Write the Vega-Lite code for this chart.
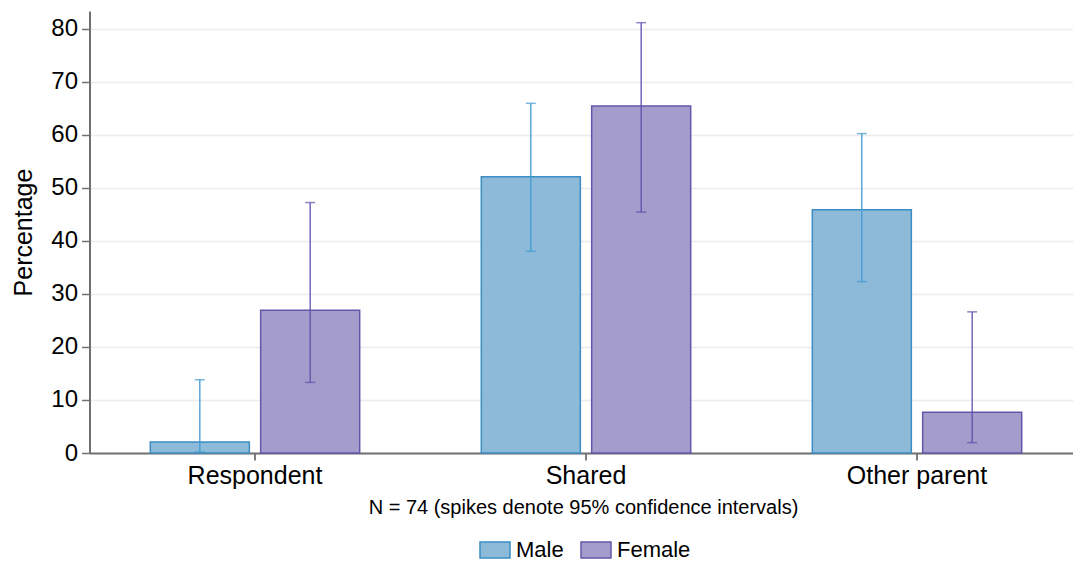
{
  "$schema": "https://vega.github.io/schema/vega-lite/v6.json",
  "width": 983.5,
  "height": 442,
  "autosize": {"type": "none"},
  "padding": {"left": 89.5, "top": 11, "right": 0, "bottom": 108},
  "background": "white",
  "config": {
    "view": {"stroke": null},
    "font": "Liberation Sans",
    "axis": {"labelFont": "Liberation Sans", "titleFont": "Liberation Sans", "labelColor": "#000000", "titleColor": "#000000", "titleFontWeight": "normal"},
    "legend": {"labelFont": "Liberation Sans", "labelColor": "#000000"}
  },
  "data": {
    "values": [
      {"who": "Respondent", "sex": "Male", "pct": 2.08, "lo": 0.2, "hi": 13.8},
      {"who": "Respondent", "sex": "Female", "pct": 26.92, "lo": 13.3, "hi": 47.2},
      {"who": "Shared", "sex": "Male", "pct": 52.08, "lo": 38.0, "hi": 65.9},
      {"who": "Shared", "sex": "Female", "pct": 65.38, "lo": 45.4, "hi": 81.1},
      {"who": "Other parent", "sex": "Male", "pct": 45.83, "lo": 32.3, "hi": 60.2},
      {"who": "Other parent", "sex": "Female", "pct": 7.69, "lo": 1.95, "hi": 26.6}
    ]
  },
  "encoding": {
    "x": {
      "field": "who",
      "type": "nominal",
      "sort": ["Respondent", "Shared", "Other parent"],
      "scale": {"range": [0, 993], "paddingInner": 0, "paddingOuter": 0},
      "axis": {
        "title": "N = 74 (spikes denote 95% confidence intervals)",
        "titleFontSize": 20,
        "titlePadding": 9,
        "titleX": 493.5,
        "labelFontSize": 25,
        "labelAngle": 0,
        "labelPadding": 3,
        "tickSize": 7,
        "tickColor": "#000000",
        "tickWidth": 1,
        "domainColor": "#707070",
        "domainWidth": 2,
        "grid": false
      }
    },
    "xOffset": {
      "field": "sex",
      "type": "nominal",
      "sort": ["Male", "Female"],
      "scale": {"paddingInner": 0.1025, "paddingOuter": 0.551}
    }
  },
  "layer": [
    {
      "mark": {"type": "bar", "strokeWidth": 1.5},
      "encoding": {
        "y": {
          "field": "pct",
          "type": "quantitative",
          "scale": {"domain": [0, 83.3], "nice": false, "zero": true},
          "axis": {
            "title": "Percentage",
            "titleFontSize": 25,
            "titlePadding": 14,
            "labelFontSize": 24,
            "labelPadding": 4,
            "values": [0, 10, 20, 30, 40, 50, 60, 70, 80],
            "tickSize": 8,
            "tickColor": "#707070",
            "tickWidth": 1.5,
            "domainColor": "#707070",
            "domainWidth": 2,
            "gridColor": "#ececec",
            "gridWidth": 1.5
          }
        },
        "fill": {
          "field": "sex",
          "type": "nominal",
          "sort": ["Male", "Female"],
          "scale": {"domain": ["Male", "Female"], "range": ["#8dbad9", "#a49ccb"]},
          "legend": {
            "title": null,
            "orient": "none",
            "direction": "horizontal",
            "legendX": 389.5,
            "legendY": 523,
            "symbolType": "M-1,-0.5333H1V0.5333H-1Z",
            "symbolSize": 900,
            "symbolStrokeWidth": 1.5,
            "symbolOpacity": 1,
            "labelFontSize": 22,
            "labelOffset": 5,
            "columnPadding": 14
          }
        },
        "stroke": {
          "field": "sex",
          "type": "nominal",
          "sort": ["Male", "Female"],
          "scale": {"domain": ["Male", "Female"], "range": ["#3a8ec3", "#6556ab"]},
          "legend": {
            "title": null,
            "orient": "none",
            "direction": "horizontal",
            "legendX": 389.5,
            "legendY": 523,
            "symbolType": "M-1,-0.5333H1V0.5333H-1Z",
            "symbolSize": 900,
            "symbolStrokeWidth": 1.5,
            "labelFontSize": 22,
            "labelOffset": 5,
            "columnPadding": 14
          }
        }
      }
    },
    {
      "mark": {"type": "rule", "strokeWidth": 1.3},
      "encoding": {
        "y": {"field": "lo", "type": "quantitative"},
        "y2": {"field": "hi"},
        "stroke": {"condition": {"test": "datum.sex === 'Male'", "value": "#419bd2"}, "value": "#6150ad"}
      }
    },
    {
      "mark": {"type": "tick", "size": 10, "thickness": 1.5},
      "encoding": {
        "y": {"field": "lo", "type": "quantitative"},
        "color": {"condition": {"test": "datum.sex === 'Male'", "value": "#419bd2"}, "value": "#6150ad"}
      }
    },
    {
      "mark": {"type": "tick", "size": 10, "thickness": 1.5},
      "encoding": {
        "y": {"field": "hi", "type": "quantitative"},
        "color": {"condition": {"test": "datum.sex === 'Male'", "value": "#419bd2"}, "value": "#6150ad"}
      }
    }
  ]
}
